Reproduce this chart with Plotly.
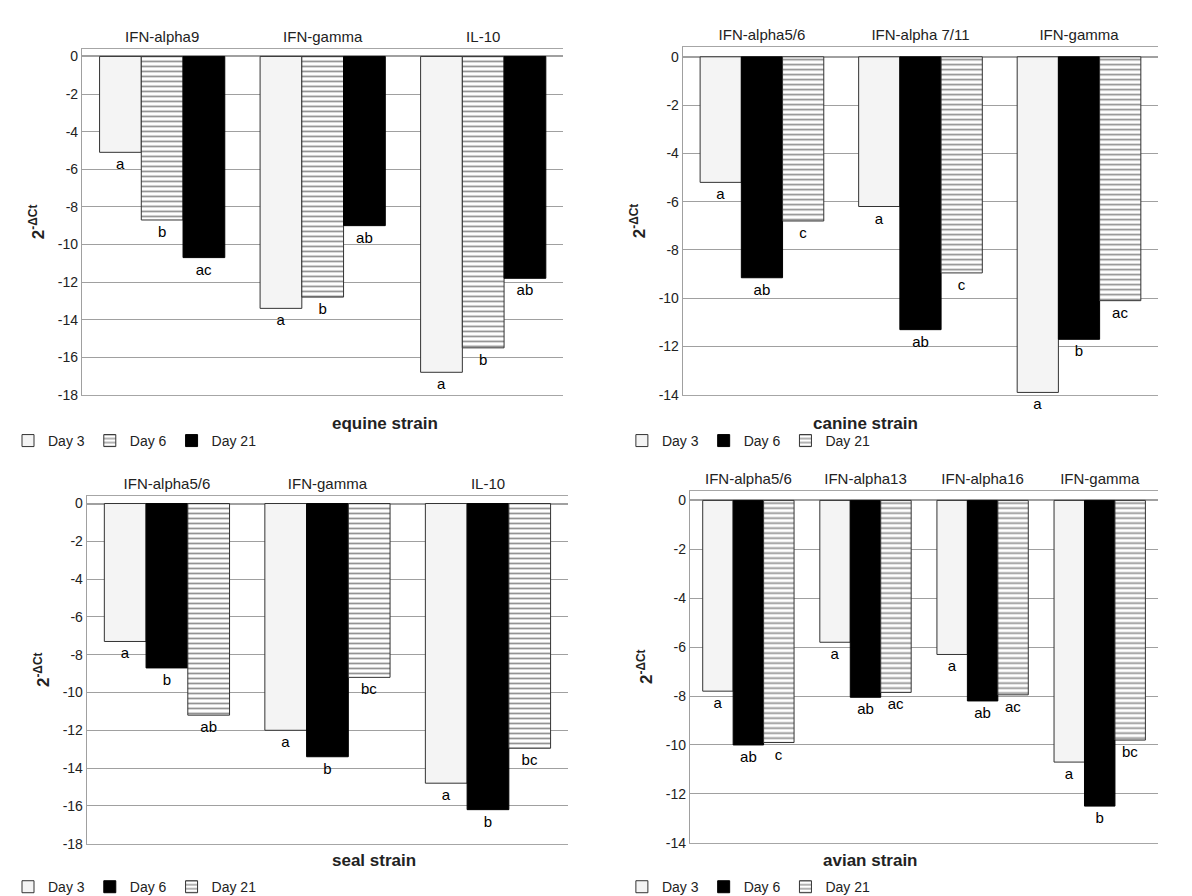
import plotly.graph_objects as go
from plotly.subplots import make_subplots

# ---- data ----
equine_genes = ["IFN-alpha9", "IFN-gamma", "IL-10"]
equine_day3 = [-5.1, -13.4, -16.8]
equine_day6 = [-8.7, -12.8, -15.5]
equine_day21 = [-10.7, -9.0, -11.8]
equine_lbl3 = ["a", "a", "a"]
equine_lbl6 = ["b", "b", "b"]
equine_lbl21 = ["ac", "ab", "ab"]

canine_genes = ["IFN-alpha5/6", "IFN-alpha 7/11", "IFN-gamma"]
canine_day3 = [-5.2, -6.2, -13.9]
canine_day6 = [-9.15, -11.3, -11.7]
canine_day21 = [-6.8, -8.95, -10.1]
canine_lbl3 = ["a", "a", "a"]
canine_lbl6 = ["ab", "ab", "b"]
canine_lbl21 = ["c", "c", "ac"]

seal_genes = ["IFN-alpha5/6", "IFN-gamma", "IL-10"]
seal_day3 = [-7.3, -12.0, -14.8]
seal_day6 = [-8.7, -13.4, -16.2]
seal_day21 = [-11.2, -9.2, -12.95]
seal_lbl3 = ["a", "a", "a"]
seal_lbl6 = ["b", "b", "b"]
seal_lbl21 = ["ab", "bc", "bc"]

avian_genes = ["IFN-alpha5/6", "IFN-alpha13", "IFN-alpha16", "IFN-gamma"]
avian_day3 = [-7.8, -5.8, -6.3, -10.7]
avian_day6 = [-10.0, -8.05, -8.2, -12.5]
avian_day21 = [-9.9, -7.85, -7.95, -9.8]
avian_lbl3 = ["a", "a", "a", "a"]
avian_lbl6 = ["ab", "ab", "ab", "b"]
avian_lbl21 = ["c", "ac", "ac", "bc"]

ticks_18 = [0, -2, -4, -6, -8, -10, -12, -14, -16, -18]
ticks_14 = [0, -2, -4, -6, -8, -10, -12, -14]

FONT = "Liberation Sans"

white_style = dict(color="#f4f4f4", line=dict(color="#333333", width=1))
black_style = dict(color="#000000", line=dict(color="#000000", width=1))
stripe_style = dict(color="white", line=dict(color="#333333", width=1),
                    pattern=dict(shape="-", fgcolor="#222222", bgcolor="white",
                                 size=5, solidity=0.35))

fig = make_subplots(rows=2, cols=2, horizontal_spacing=0.1, vertical_spacing=0.12)

panels = [
    (1, 1, "legend", equine_genes,
     [("Day 3", equine_day3, equine_lbl3, white_style),
      ("Day 6", equine_day6, equine_lbl6, stripe_style),
      ("Day 21", equine_day21, equine_lbl21, black_style)]),
    (1, 2, "legend2", canine_genes,
     [("Day 3", canine_day3, canine_lbl3, white_style),
      ("Day 6", canine_day6, canine_lbl6, black_style),
      ("Day 21", canine_day21, canine_lbl21, stripe_style)]),
    (2, 1, "legend3", seal_genes,
     [("Day 3", seal_day3, seal_lbl3, white_style),
      ("Day 6", seal_day6, seal_lbl6, black_style),
      ("Day 21", seal_day21, seal_lbl21, stripe_style)]),
    (2, 2, "legend4", avian_genes,
     [("Day 3", avian_day3, avian_lbl3, white_style),
      ("Day 6", avian_day6, avian_lbl6, black_style),
      ("Day 21", avian_day21, avian_lbl21, stripe_style)]),
]

for row, col, leg, genes, series in panels:
    for name, vals, lbls, style in series:
        fig.add_trace(go.Bar(x=genes, y=vals, name=name, marker=style,
                             text=lbls, textposition="outside",
                             textfont=dict(color="black", size=15, family=FONT),
                             cliponaxis=False, legend=leg),
                      row=row, col=col)

# domains
doms = {
    (1, 1): ([0.062, 0.466], [0.565, 0.955]),
    (1, 2): ([0.566, 0.965], [0.565, 0.957]),
    (2, 1): ([0.066, 0.47], [0.059, 0.451]),
    (2, 2): ([0.572, 0.965], [0.06, 0.457]),
}
ticks = {(1, 1): ticks_18, (1, 2): ticks_14, (2, 1): ticks_18, (2, 2): ticks_14}
for (r, c), (dx, dy) in doms.items():
    tv = ticks[(r, c)]
    fig.update_xaxes(domain=dx, side="top", showline=True, mirror=True,
                     linecolor="#a6a6a6", ticks="", showgrid=False,
                     tickfont=dict(size=15, family=FONT, color="#222"),
                     row=r, col=c)
    fig.update_yaxes(domain=dy, range=[min(tv), 0.4],
                     tickvals=tv, ticktext=[str(v) for v in tv],
                     showgrid=True, gridcolor="#a0a0a0", showline=True,
                     linecolor="#a0a0a0", zeroline=True, zerolinecolor="#a0a0a0",
                     ticks="", tickfont=dict(size=14, family=FONT, color="#222"),
                     title=dict(text="<b>2<sup>-ΔCt</sup></b>", standoff=8,
                                font=dict(size=17, family=FONT, color="#222")),
                     row=r, col=c)

titles = [("equine strain", 0.27, 0.533), ("canine strain", 0.765, 0.533),
          ("seal strain", 0.27, 0.027), ("avian strain", 0.765, 0.027)]
for txt, x, y in titles:
    fig.add_annotation(text="<b>" + txt + "</b>", x=x, y=y, xref="paper", yref="paper",
                       showarrow=False, font=dict(size=17, family=FONT, color="#222"))

leg_common = dict(orientation="h", xanchor="left", yanchor="middle",
                  font=dict(size=14, family=FONT, color="#222"),
                  bgcolor="rgba(0,0,0,0)", itemwidth=30, traceorder="normal")
fig.update_layout(
    legend=dict(x=0.0, y=0.513, **leg_common),
    legend2=dict(x=0.515, y=0.513, **leg_common),
    legend3=dict(x=0.0, y=0.01, **leg_common),
    legend4=dict(x=0.515, y=0.01, **leg_common),
)

fig.update_layout(width=1192, height=896, plot_bgcolor="white", paper_bgcolor="white",
                  margin=dict(l=0, r=0, t=0, b=0), barmode="group",
                  bargap=0.22, bargroupgap=0.0, font=dict(family=FONT))

fig.write_html("out.html")
